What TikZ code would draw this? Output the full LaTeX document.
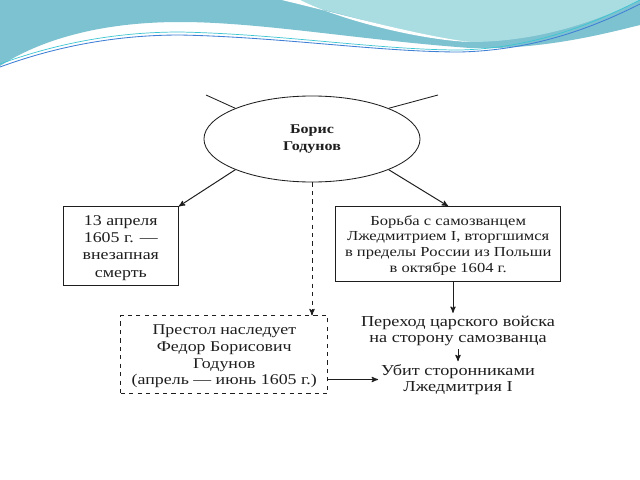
\documentclass[tikz,border=0pt]{standalone}
\usepackage{fontspec}
\setmainfont[FakeStretch=1.2]{Liberation Serif}
\usepackage{tikz}
\usetikzlibrary{calc}
\usetikzlibrary{arrows}
\usetikzlibrary{shapes.geometric}

\definecolor{waveteal}{HTML}{7DC2D0}
\definecolor{wavelight}{HTML}{A9DDE1}
\definecolor{waveblue}{HTML}{3F7FD6}
\definecolor{wavecyan}{HTML}{3CC6D2}
\definecolor{inkgrey}{HTML}{1E1E1E}

\begin{document}
\begin{tikzpicture}[x = 0.025cm, y = -0.025cm,
        box/.style = {draw = inkgrey, line width = 0.6pt, align = center, text = inkgrey, font = \fontsize{10.6}{12.4}\selectfont, inner sep = 0pt, text depth = -4.5pt},
        plain/.style = {align = center, text = inkgrey, font = \fontsize{10.8}{11.6}\selectfont, inner sep = 2pt},
        link/.style = {->, >=stealth', line width = 0.7pt, draw = inkgrey}]
        \def\pagew{640};
        \def\pageh{480};
        \useasboundingbox (0,0) rectangle (\pagew,\pageh);
        \fill[white] (0,0) rectangle (\pagew,\pageh);

        % slide decoration
        \fill[waveteal] (0,0) -- (0,66) .. controls (40,40) and (100,22) .. (180,22) .. controls (260,22) and (360,40) .. (470,48) .. controls (540,50) and (600,35) .. (640,25) -- (640,0) -- cycle;
        \fill[wavelight] (282,0) .. controls (340,12) and (420,38) .. (470,42) .. controls (540,42) and (600,20) .. (640,0) -- cycle;
        \fill[white] (282,0) .. controls (340,14) and (420,36) .. (470,42) .. controls (420,40) and (340,20) .. (300,0) -- cycle;
        \draw[wavecyan, line width = 0.5pt] (0,64) .. controls (60,42) and (120,32) .. (180,32) .. controls (280,34) and (380,50) .. (460,50) .. controls (540,48) and (600,20) .. (640,0);
        \draw[waveblue, line width = 0.6pt] (0,67) .. controls (60,45) and (120,35) .. (180,35) .. controls (280,37) and (380,52) .. (460,52) .. controls (540,50) and (600,24) .. (640,4);

        % diagram
        \node[draw = inkgrey, line width = 0.6pt, ellipse, minimum width = 5.4cm, minimum height = 2.15cm, inner sep = 0pt, align = center, text = inkgrey, font = \bfseries\fontsize{9.5}{11.5}\selectfont] (boris) at (312,139){Борис\\Годунов};

        \node[box, minimum width = 2.875cm, minimum height = 1.975cm] (death) at (120.8,246.3){13 апреля\\1605 г. —\\внезапная\\смерть};

        \node[box, minimum width = 5.625cm, minimum height = 1.86cm, font = \fontsize{9.8}{11.2}\selectfont] (fight) at (448.2,243.8){Борьба с самозванцем\\Лжедмитрием I, вторгшимся\\в пределы России из Польши\\в октябре 1604 г.};

        \node[box, dashed, minimum width = 5.175cm, minimum height = 1.95cm, font = \fontsize{10.6}{12}\selectfont] (throne) at (224.3,354.8){Престол наследует\\Федор Борисович\\Годунов\\(апрель — июнь 1605 г.)};

        \node[plain] (army) at (458,331){Переход царского войска\\на сторону самозванца};

        \node[plain] (killed) at (458,379.5){Убит сторонниками\\Лжедмитрия I};

        \coordinate (outleft) at (206,95);
        \coordinate (outright) at (438,95);

        \draw[line width = 0.6pt, inkgrey] (outleft) -- (boris.north west);
        \draw[line width = 0.6pt, inkgrey] (outright) -- (boris.north east);
        \draw[link] (boris.south west) -- (death.north east);
        \draw[link] (boris.south east) -- (fight.north);
        \draw[link, dashed] (boris.south) -- (boris.south |- throne.north);
        \draw[link] (fight.south -| army.north) ++(-5,0) coordinate (fightout) -- (fightout |- army.north);
        \draw[link] (army.south) -- (killed.north);
        \draw[link] (killed.west -| throne.east) -- (killed.west);
    \end{tikzpicture}
\end{document}
